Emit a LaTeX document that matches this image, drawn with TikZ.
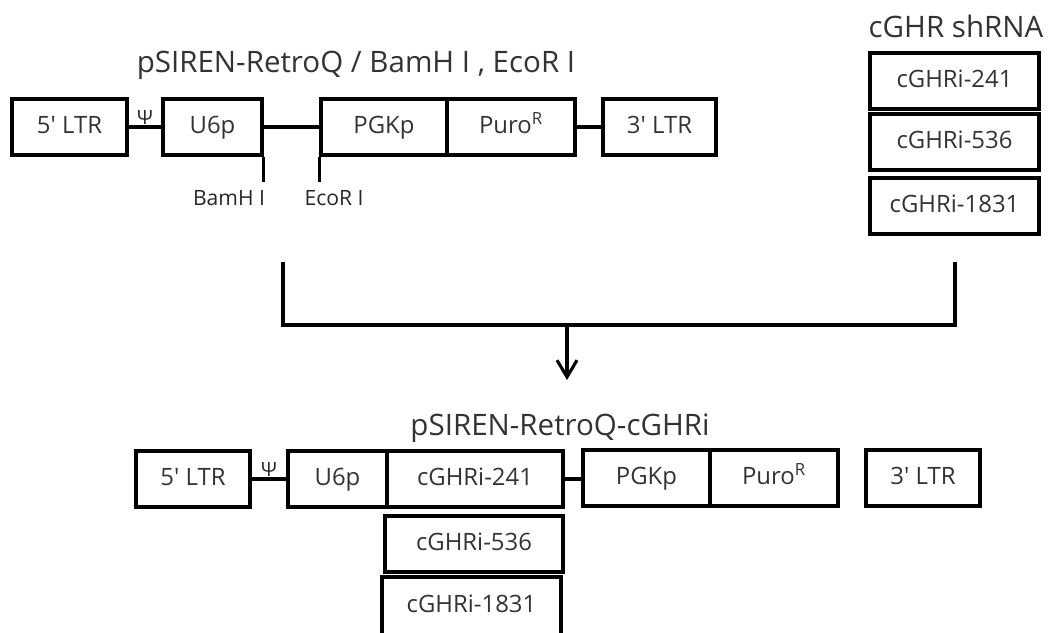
\documentclass[tikz,border=0pt]{standalone}
\usepackage{fontspec}
\setmainfont{Open Sans}
\usetikzlibrary{arrows.meta}
\newcommand{\pxu}{0.025cm}
\tikzset{
  box/.style={draw, line width=2.2pt, minimum height=56*\pxu, inner sep=0pt,
    text height=12.5pt, text depth=3.5pt,
    font=\fontsize{17}{20}\selectfont, text=black!80},
  ttl/.style={font=\fontsize{21}{25}\selectfont, text=black!80},
  site/.style={font=\fontsize{15}{18}\selectfont, text=black!85},
  psi/.style={font=\fontsize{14}{16}\selectfont, text=black!85, inner sep=1pt},
  link/.style={line width=2.2pt},
}
\begin{document}
\begin{tikzpicture}[x=\pxu, y=-\pxu]
  \useasboundingbox (0,0) rectangle (1049,632);

  % cut vector
  \node[ttl] (vecttl) at (356,65) {pSIREN-RetroQ / BamH I , EcoR I};
  \node[box, minimum width=115*\pxu] (ltrA) at (69.5,127) {5\textquotesingle{} LTR};
  \node[box, minimum width=99*\pxu] (u6A) at (212.5,127) {U6p};
  \node[box, minimum width=126*\pxu] (pgkA) at (384,127) {PGKp};
  \node[box, minimum width=128*\pxu] (puroA) at (511,127) {Puro\textsuperscript{R}};
  \node[box, minimum width=113*\pxu] (ltrB) at (659.5,127) {3\textquotesingle{} LTR};
  \draw[link] (ltrA.east) -- node[psi, above] {Ψ} (u6A.west);
  \draw[link] (u6A.east) -- (pgkA.west);
  \draw[link] (puroA.east) -- (ltrB.west);

  % cloning sites
  \coordinate (bamh) at (262,182);
  \coordinate (ecor) at (321,182);
  \draw[link] (u6A.south east) -- (u6A.south east |- bamh);
  \draw[link] (pgkA.south west) -- (pgkA.south west |- ecor);
  \node[site] (bamhlbl) at (229,198) {BamH I};
  \node[site] (ecorlbl) at (334,198) {EcoR I};

  % inserts
  \node[ttl] (shttl) at (956,26) {cGHR shRNA};
  \foreach \n/\y in {241/81, 536/142, 1831/206} {
    \node[box, minimum width=169*\pxu] (sh\n) at (954.5,\y) {cGHRi-\n};
  }

  % ligation
  \coordinate (brL) at (283,262);
  \coordinate (brR) at (955,262);
  \coordinate (brM) at (567,325);
  \coordinate (arrT) at (567,380);
  \draw[link] (brL) |- (brM) -| (brR);
  \draw[link, -{Straight Barb[length=0.42cm, width=0.5cm]}] (brM) -- (arrT);

  % recombinant vector
  \node[ttl] (recttl) at (560,428) {pSIREN-RetroQ-cGHRi};
  \node[box, minimum width=114*\pxu] (ltrC) at (193,479) {5\textquotesingle{} LTR};
  \node[box, minimum width=99*\pxu] (u6C) at (337.5,479) {U6p};
  \node[box, minimum width=176*\pxu] (r241) at (475,479) {cGHRi-241};
  \node[box, minimum width=178*\pxu] (r536) at (474,544) {cGHRi-536};
  \node[box, minimum width=179*\pxu, minimum height=58*\pxu] (r1831) at (471.5,606) {cGHRi-1831};
  \node[box, minimum width=127*\pxu] (pgkC) at (646.5,478) {PGKp};
  \node[box, minimum width=128*\pxu] (puroC) at (774,478) {Puro\textsuperscript{R}};
  \node[box, minimum width=114*\pxu] (ltrD) at (923,478) {3\textquotesingle{} LTR};
  \draw[link] (ltrC.east) -- node[psi, above] {Ψ} (u6C.west);
  \draw[link] (r241.east) -- (r241.east -| pgkC.west);
\end{tikzpicture}
\end{document}
